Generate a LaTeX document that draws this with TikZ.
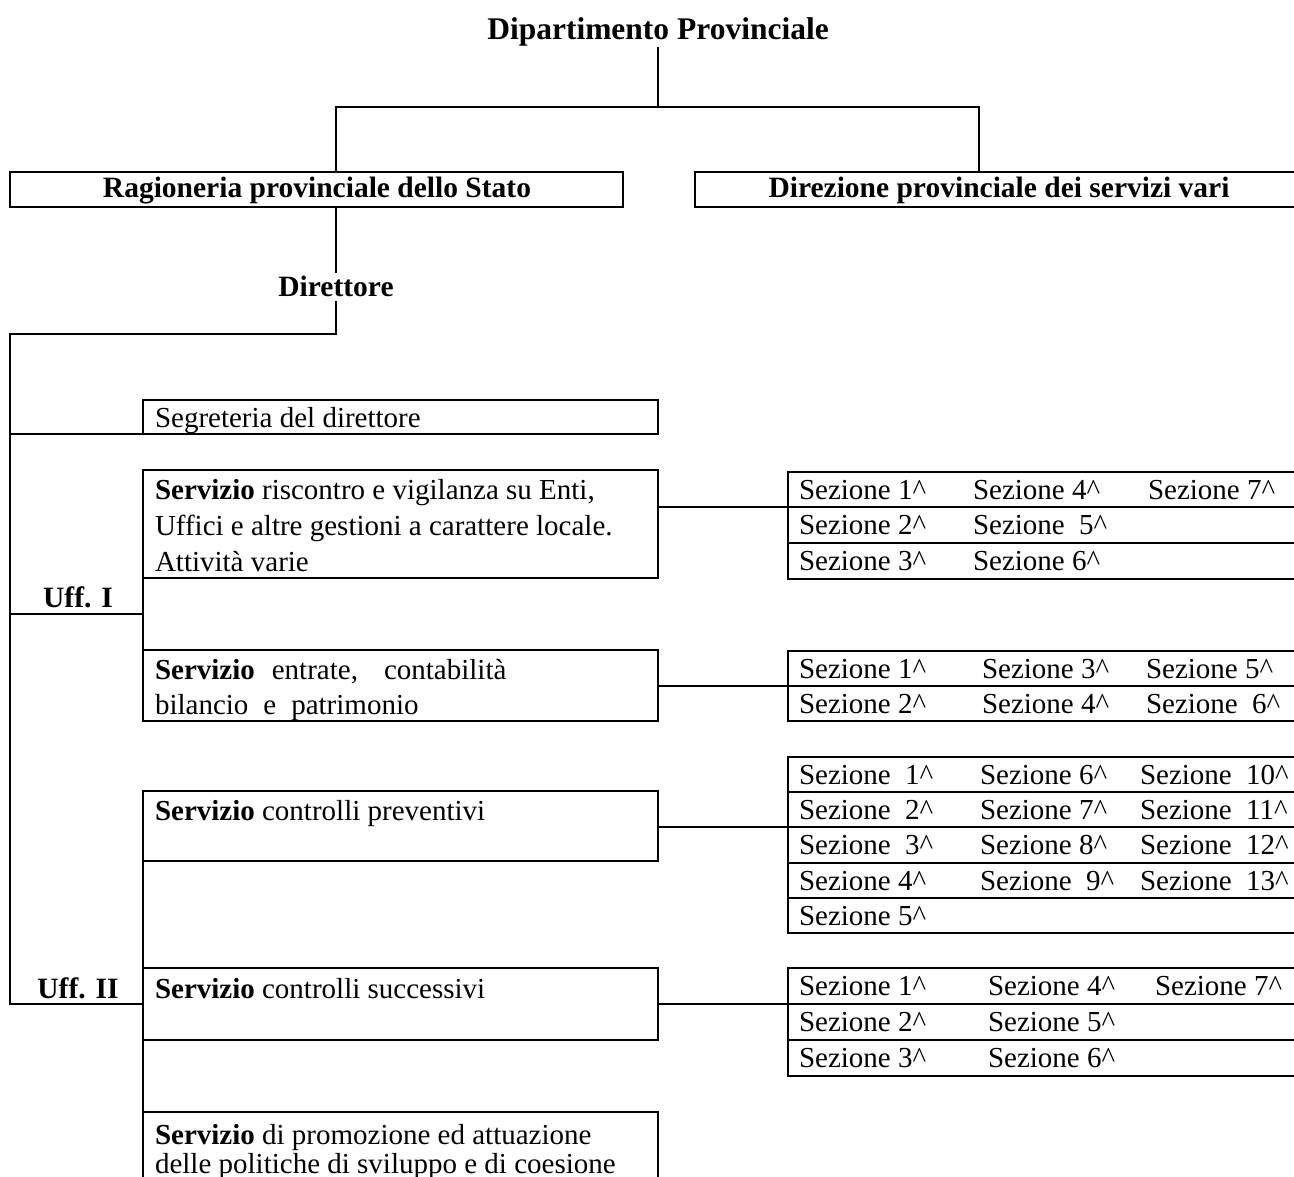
\documentclass[tikz,border=0pt]{standalone}
\usepackage{fontspec}
\setmainfont{Liberation Serif}
\newcommand{\sezrow}[8]{%
  % #1 name, #2 top, #3 height, #4 x of column 2, #5 x of column 3, #6-#8 texts
  \node[frame, minimum width=520pt, minimum height=#3pt] (#1) at (788,#2) {};
  \node[txt] (#1a) at (799,#2+27) {#6};
  \node[txt] (#1b) at (#4,#2+27) {#7};
  \node[txt] (#1c) at (#5,#2+27) {#8};
}
\newcommand{\sz}[1]{Sezione #1\textasciicircum}
\newcommand{\szz}[1]{Sezione\hspace{7pt} #1\textasciicircum}
\begin{document}
\begin{tikzpicture}[x=1pt,y=-1pt,line width=2pt,
  frame/.style={draw,line width=2pt,inner sep=0pt,outer sep=0pt,anchor=north west},
  txt/.style={inner sep=0pt,outer sep=0pt,anchor=base west,font=\fontsize{29}{35}\selectfont},
  bold/.style={inner sep=0pt,outer sep=0pt,anchor=base,font=\fontsize{29.5}{35}\selectfont\bfseries},
  line/.style={draw,line width=2pt}]
\useasboundingbox (0,0) rectangle (1294,1177);

% top level
\node[bold,font=\fontsize{31.5}{36}\selectfont\bfseries] (dip) at (658,40) {Dipartimento Provinciale};
\node[frame,minimum width=613pt,minimum height=35pt] (rag) at (10,172) {};
\node[bold] (ragT) at (317,198) {Ragioneria provinciale dello Stato};
\node[frame,minimum width=620pt,minimum height=35pt] (dsv) at (695,172) {};
\node[bold] (dsvT) at (999,198) {Direzione provinciale dei servizi vari};
\node[bold] (dirt) at (336,297) {Direttore};
\coordinate (fork) at (658,107);
\coordinate (dsvx) at (979,0);

\draw[line] (dip.south) -- (fork);
\draw[line] (rag.north -| dirt) -- (dirt |- fork) -- (dsvx |- fork) -- (dsv.north -| dsvx);
\draw[line] (rag.south -| dirt) -- ([yshift=4pt]dirt.north);

% offices
\node[frame,minimum width=515pt,minimum height=34pt] (seg) at (143,400) {};
\node[txt] (segT) at (155,427) {Segreteria del direttore};

\node[frame,minimum width=515pt,minimum height=108pt] (risc) at (143,470) {};
\node[txt] (risc1) at (155,499) {\textbf{Servizio} riscontro e vigilanza su Enti,};
\node[txt] (risc2) at (155,535) {Uffici e altre gestioni a carattere locale.};
\node[txt] (risc3) at (155,571) {Attività varie};

\node[frame,minimum width=515pt,minimum height=71pt] (entr) at (143,650) {};
\node[txt] (entr1) at (155,679) {\textbf{Servizio}\hspace{17pt}entrate,\hspace{26pt}contabilità};
\node[txt] (entr2) at (155,714) {bilancio\hspace{15pt}e\hspace{15pt}patrimonio};

\node[frame,minimum width=515pt,minimum height=70pt] (prev) at (143,791) {};
\node[txt] (prev1) at (155,820) {\textbf{Servizio} controlli preventivi};

\node[frame,minimum width=515pt,minimum height=72pt] (succ) at (143,968) {};
\node[txt] (succ1) at (155,998) {\textbf{Servizio} controlli successivi};

\node[frame,minimum width=515pt,minimum height=90pt] (prom) at (143,1112) {};
\node[txt] (prom1) at (155,1144) {\textbf{Servizio} di promozione ed attuazione};
\node[txt] (prom2) at (155,1173) {delle politiche di sviluppo e di coesione};

\node[bold] (uff1) at (78,607) {Uff. I};
\node[bold] (uff2) at (78,998) {Uff. II};

% spine of the offices
\coordinate (spine) at (10,334);
\coordinate (j1) at (143,614);
\draw[line] ([yshift=-4pt]dirt.south) |- (spine) -- (spine |- succ.west) -- (succ.west);
\draw[line] (spine |- seg.south west) -- (seg.south west);
\draw[line] (spine |- j1) -- (j1);
\draw[line] (risc.south west) -- (entr.north west);
\draw[line] (prev.south west) -- (succ.north west);
\draw[line] (succ.south west) -- (prom.north west);

% section tables
\sezrow{ta}{472}{35}{973}{1148}{\sz{1}}{\sz{4}}{\sz{7}}
\sezrow{tb}{507}{36}{973}{1148}{\sz{2}}{\szz{5}}{}
\sezrow{tc}{543}{36}{973}{1148}{\sz{3}}{\sz{6}}{}

\sezrow{ua}{651}{35}{982}{1146}{\sz{1}}{\sz{3}}{\sz{5}}
\sezrow{ub}{686}{35}{982}{1146}{\sz{2}}{\sz{4}}{\szz{6}}

\sezrow{va}{757}{35}{980}{1140}{\szz{1}}{\sz{6}}{\szz{10}}
\sezrow{vb}{792}{35}{980}{1140}{\szz{2}}{\sz{7}}{\szz{11}}
\sezrow{vc}{827}{36}{980}{1140}{\szz{3}}{\sz{8}}{\szz{12}}
\sezrow{vd}{863}{35}{980}{1140}{\sz{4}}{\szz{9}}{\szz{13}}
\sezrow{ve}{898}{35}{980}{1140}{\sz{5}}{}{}

\sezrow{wa}{968}{36}{988}{1155}{\sz{1}}{\sz{4}}{\sz{7}}
\sezrow{wb}{1004}{36}{988}{1155}{\sz{2}}{\sz{5}}{}
\sezrow{wc}{1040}{36}{988}{1155}{\sz{3}}{\sz{6}}{}

% links from services to their sections
\draw[line] (ta.south west -| risc.east) -- (ta.south west);
\draw[line] (ua.south west -| entr.east) -- (ua.south west);
\draw[line] (vb.south west -| prev.east) -- (vb.south west);
\draw[line] (wa.south west -| succ.east) -- (wa.south west);
\end{tikzpicture}
\end{document}
